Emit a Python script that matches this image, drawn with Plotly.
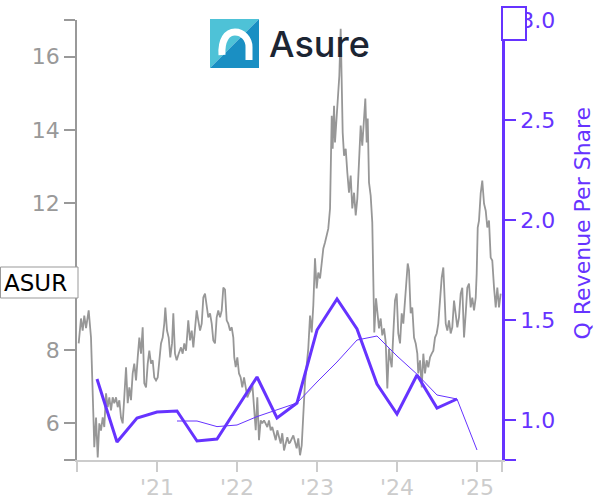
import plotly.graph_objects as go

# ---------------- data ----------------
ticker = "ASUR"
logo_text = "Asure"
right_title = "Q Revenue Per Share"

# daily-ish closing price (decimal year, USD)
price_t = [
    2020.021, 2020.05, 2020.071, 2020.091, 2020.113, 2020.146, 2020.175, 2020.196, 2020.204, 2020.216,
    2020.238, 2020.259, 2020.279, 2020.30, 2020.321, 2020.341, 2020.363, 2020.384, 2020.404, 2020.425,
    2020.446, 2020.466, 2020.488, 2020.509, 2020.529, 2020.55, 2020.571, 2020.591, 2020.613, 2020.634,
    2020.654, 2020.675, 2020.696, 2020.716, 2020.738, 2020.759, 2020.779, 2020.80, 2020.821, 2020.841,
    2020.863, 2020.884, 2020.904, 2020.925, 2020.946, 2020.966, 2020.988, 2021.009, 2021.029, 2021.05,
    2021.071, 2021.091, 2021.104, 2021.125, 2021.146, 2021.166, 2021.188, 2021.204, 2021.225, 2021.246,
    2021.271, 2021.30, 2021.321, 2021.341, 2021.363,
    2021.391, 2021.413, 2021.434, 2021.454, 2021.475, 2021.496, 2021.516, 2021.538, 2021.559, 2021.579,
    2021.60, 2021.621, 2021.641, 2021.663, 2021.684, 2021.704, 2021.725, 2021.746, 2021.766, 2021.788,
    2021.809, 2021.829, 2021.85, 2021.871, 2021.891, 2021.913, 2021.934, 2021.954, 2021.966, 2021.984,
    2022.004, 2022.025, 2022.046, 2022.066, 2022.088, 2022.109, 2022.129, 2022.15, 2022.171, 2022.191,
    2022.213, 2022.234, 2022.254, 2022.275, 2022.296, 2022.316, 2022.338, 2022.359, 2022.379, 2022.40,
    2022.421, 2022.441, 2022.463, 2022.484, 2022.504, 2022.525, 2022.546, 2022.566, 2022.588, 2022.609,
    2022.629, 2022.65,
    2022.663, 2022.704, 2022.746, 2022.766, 2022.788, 2022.809, 2022.829, 2022.85, 2022.871, 2022.891,
    2022.913, 2022.934, 2022.954, 2022.975, 2022.996, 2023.016, 2023.038, 2023.059, 2023.079, 2023.10,
    2023.121, 2023.141, 2023.163, 2023.171, 2023.184, 2023.196, 2023.213, 2023.225, 2023.246, 2023.266,
    2023.279, 2023.296, 2023.309, 2023.321, 2023.338, 2023.359, 2023.379, 2023.40, 2023.421, 2023.441,
    2023.463, 2023.484, 2023.504, 2023.525, 2023.546, 2023.566, 2023.588, 2023.604, 2023.621, 2023.634,
    2023.65, 2023.671, 2023.691, 2023.704, 2023.716, 2023.738, 2023.754, 2023.775, 2023.796, 2023.816,
    2023.838, 2023.859, 2023.879, 2023.90,
    2023.913, 2023.934, 2023.954, 2023.975, 2023.996, 2024.016, 2024.038, 2024.059, 2024.079, 2024.10,
    2024.121, 2024.134, 2024.15, 2024.171, 2024.191, 2024.213, 2024.234, 2024.254, 2024.266, 2024.288,
    2024.309, 2024.329, 2024.35, 2024.371, 2024.391, 2024.413, 2024.434, 2024.454, 2024.475, 2024.496,
    2024.516, 2024.538, 2024.559, 2024.579, 2024.591, 2024.609, 2024.629, 2024.65, 2024.671, 2024.691,
    2024.713, 2024.734, 2024.754, 2024.775, 2024.796, 2024.816, 2024.838, 2024.859, 2024.879, 2024.90,
    2024.921, 2024.941, 2024.963, 2024.984, 2024.996, 2025.009, 2025.025, 2025.046, 2025.066, 2025.088,
    2025.109, 2025.129, 2025.15, 2025.171, 2025.191, 2025.213, 2025.234, 2025.254, 2025.275, 2025.296,
]
price_v = [
    8.18, 8.86, 8.53, 8.94, 8.60, 9.08, 8.34, 7.17, 6.27, 5.35,
    6.16, 5.07, 6.00, 5.80, 6.16, 5.90, 6.82, 6.44, 6.71, 6.35,
    6.71, 6.55, 6.71, 6.44, 6.63, 6.16, 6.00, 6.71, 7.53, 6.55,
    6.98, 6.63, 7.36, 7.63, 7.17, 7.80, 8.34, 7.90, 8.62, 7.09,
    6.98, 7.63, 7.98, 7.63, 7.72, 7.25, 7.17, 7.25, 7.63, 8.18,
    8.34, 8.72, 9.16, 8.53, 8.34, 7.80, 8.18, 9.00, 7.90, 7.72,
    7.90, 8.07, 7.90, 8.18, 7.98,
    8.81, 8.26, 8.53, 8.07, 8.62, 9.08, 8.81, 8.53, 8.72, 9.43,
    9.54, 9.16, 8.89, 9.00, 8.72, 8.26, 8.18, 8.89, 9.08, 8.89,
    9.08, 9.70, 9.65, 8.81, 8.72, 8.53, 8.62, 8.34, 7.80, 7.53,
    7.80, 7.36, 7.25, 6.98, 7.25, 6.98, 6.71, 6.82, 6.90, 7.09,
    6.55, 5.81, 6.71, 5.54, 6.08, 6.00, 6.08, 6.00, 5.90, 6.08,
    5.81, 5.90, 5.73, 5.54, 5.81, 5.62, 5.45, 5.73, 5.26, 5.45,
    5.62, 5.45,
    5.48, 5.67, 5.32, 5.59, 5.13, 5.40, 6.22, 7.12, 7.58, 8.04,
    8.94, 8.48, 9.22, 10.50, 9.68, 10.11, 9.95, 10.39, 10.77, 10.93,
    11.12, 11.31, 11.86, 13.30, 14.39, 13.49, 14.66, 13.66, 14.39, 14.94,
    15.48, 16.76, 15.30, 13.93, 13.30, 13.49, 12.84, 12.29, 12.76, 11.86,
    12.29, 11.67, 12.13, 13.30, 14.12, 13.57, 14.39, 14.86, 13.66, 14.31,
    12.57, 12.21, 11.48, 10.03, 8.48, 9.41, 8.94, 8.59, 8.86, 8.40,
    8.59, 8.21, 6.95, 8.04,
    7.80, 7.53, 8.45, 9.35, 9.54, 8.45, 8.18, 9.00, 8.72, 9.35,
    9.90, 10.36, 10.17, 9.00, 9.16, 8.34, 8.18, 7.90, 7.36, 7.72,
    6.98, 7.90, 7.36, 7.72, 7.53, 7.80, 7.90, 7.98, 8.34, 8.45,
    8.72, 9.35, 9.98, 10.25, 9.54, 8.72, 8.53, 8.81, 8.45, 8.62,
    9.35, 9.00, 8.62, 8.89, 9.54, 9.70, 8.34, 9.00, 9.70, 9.81,
    9.16, 9.43, 9.08, 9.43, 10.08, 11.34, 11.53, 12.27, 12.62, 11.99,
    11.80, 11.34, 11.53, 10.52, 10.44, 9.70, 9.16, 9.70, 9.16, 9.54,
]

# quarterly revenue per share (thick line)
rev_t = [2020.25, 2020.5, 2020.75, 2021.0, 2021.25, 2021.5, 2021.75, 2022.25, 2022.5,
         2022.75, 2023.0, 2023.25, 2023.5, 2023.75, 2024.0, 2024.25, 2024.5, 2024.75]
rev_v = [1.205, 0.89, 1.01, 1.04, 1.045, 0.895, 0.905, 1.215, 1.01,
         1.085, 1.45, 1.605, 1.455, 1.18, 1.03, 1.225, 1.06, 1.105]

# smoothed revenue per share (thin line)
avg_t = [2021.25, 2021.5, 2021.75, 2022.0, 2022.25, 2022.5, 2022.75, 2023.0, 2023.25,
         2023.5, 2023.75, 2024.0, 2024.25, 2024.5, 2024.75, 2025.0]
avg_v = [0.995, 0.995, 0.967, 0.975, 1.017, 1.05, 1.085, 1.19, 1.29,
         1.40, 1.42, 1.32, 1.229, 1.125, 1.105, 0.85]

x_tickvals = [2020.0, 2021, 2022, 2023, 2024, 2025, 2025.3125]
x_ticktext = ["", "'21", "'22", "'23", "'24", "'25", ""]
yl_tickvals = [5, 6, 8, 10, 12, 14, 16, 17]
yl_ticktext = ["", "6", "8", "", "12", "14", "16", ""]   # the 10 label sits under the ticker box
yr_tickvals = [0.8, 1.0, 1.5, 2.0, 2.5, 3.0]
yr_ticktext = ["", "1.0", "1.5", "2.0", "2.5", "3.0"]

# ---------------- styling / layout ----------------
W, H = 600, 500
L, R, T, B = 77, 98, 20, 40
PW, PH = W - L - R, H - T - B
PURPLE = "#6633ff"
GRAY = "#999999"
LIGHT = "#cccccc"
FONT = "DejaVu Sans"


def px(x):
    return (x - L) / PW


def py(y):
    return (H - B - y) / PH


def pt(x, y):
    return f"{px(x):.5f},{py(y):.5f}"


fig = go.Figure()
fig.add_trace(go.Scatter(x=price_t, y=price_v, mode="lines",
                         line=dict(color="#979797", width=1.8), yaxis="y", hoverinfo="skip"))
fig.add_trace(go.Scatter(x=avg_t, y=avg_v, mode="lines",
                         line=dict(color=PURPLE, width=1), yaxis="y2"))
fig.add_trace(go.Scatter(x=rev_t, y=rev_v, mode="lines",
                         line=dict(color=PURPLE, width=3), yaxis="y2"))

shapes = [
    # ticker box on the left
    dict(type="rect", xref="paper", yref="paper", x0=px(0.5), x1=px(78), y0=py(298), y1=py(267),
         line=dict(color=GRAY, width=1), fillcolor="white", layer="above"),
    # value box on the right
    dict(type="rect", xref="paper", yref="paper", x0=px(502), x1=px(526), y0=py(40), y1=py(7),
         line=dict(color=PURPLE, width=2), fillcolor="white", layer="above"),
    # logo square (two tones)
    dict(type="path", xref="paper", yref="paper",
         path=f"M {pt(210,19)} L {pt(259,19)} L {pt(210,68)} Z",
         fillcolor="#4ec2d7", line=dict(width=0), layer="above"),
    dict(type="path", xref="paper", yref="paper",
         path=f"M {pt(259,19)} L {pt(259,68)} L {pt(210,68)} Z",
         fillcolor="#1a8fc3", line=dict(width=0), layer="above"),
    # logo glyph (white arch)
    dict(type="path", xref="paper", yref="paper",
         path=(f"M {pt(222,55)} C {pt(221,40)} {pt(227,32)} {pt(235,32)} "
               f"C {pt(243,32)} {pt(249,39)} {pt(249,47)} L {pt(249,60)}"),
         line=dict(color="white", width=7), layer="above"),
]

annotations = [
    dict(text=ticker, xref="paper", yref="paper", x=px(2), y=py(282.5), xanchor="left",
         yanchor="middle", showarrow=False, font=dict(family=FONT, size=23, color="black")),
    dict(text=right_title, xref="paper", yref="paper", x=px(582), y=py(223.5), xanchor="center",
         yanchor="middle", textangle=-90, showarrow=False,
         font=dict(family=FONT, size=22, color=PURPLE)),
    dict(text=logo_text, xref="paper", yref="paper", x=px(319), y=py(44), xanchor="center",
         yanchor="middle", showarrow=False,
         font=dict(family="Inter", size=36, color="#1c2533", weight=500)),
]

fig.update_layout(
    width=W, height=H, autosize=False,
    margin=dict(l=L, r=R, t=T, b=B, autoexpand=False),
    paper_bgcolor="white", plot_bgcolor="white",
    showlegend=False,
    font=dict(family=FONT, size=22),
    xaxis=dict(range=[2020.0, 2025.3125], tickmode="array", tickvals=x_tickvals, ticktext=x_ticktext,
               showline=True, linecolor=LIGHT, linewidth=1.5, ticks="outside", ticklen=10,
               tickwidth=1.5, tickcolor=LIGHT, tickfont=dict(size=22, color=LIGHT),
               ticklabelstandoff=-3, showgrid=False, zeroline=False),
    yaxis=dict(range=[5, 17], tickmode="array", tickvals=yl_tickvals, ticktext=yl_ticktext,
               showline=True, linecolor=GRAY, linewidth=1.5, ticks="outside", ticklen=11,
               tickwidth=1.5, tickcolor=GRAY, tickfont=dict(size=22, color=GRAY),
               showgrid=False, zeroline=False),
    yaxis2=dict(range=[0.8, 3.0], overlaying="y", side="right", tickmode="array",
                tickvals=yr_tickvals, ticktext=yr_ticktext,
                showline=True, linecolor=PURPLE, linewidth=2.5, ticks="outside", ticklen=11,
                tickwidth=2, tickcolor=PURPLE, tickfont=dict(size=22, color=PURPLE),
                showgrid=False, zeroline=False),
    shapes=shapes,
    annotations=annotations,
)

fig.write_html("out.html", config={"displayModeBar": False},
               post_script="document.body.style.margin='0';document.body.style.padding='0';")
